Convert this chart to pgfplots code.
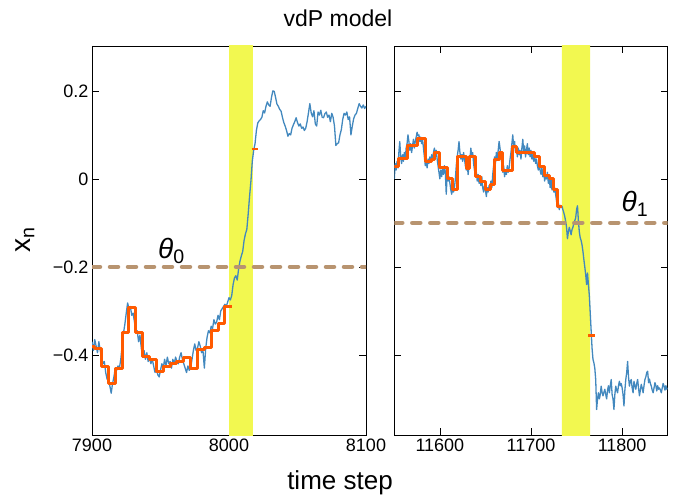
\documentclass[border=0pt]{standalone}
\usepackage{pgfplots}
\pgfplotsset{compat=1.18}
\usepackage{fontspec}
\setmainfont{Liberation Sans}
\definecolor{bl}{RGB}{66,136,190}
\definecolor{orng}{RGB}{255,90,0}
\definecolor{ylw}{RGB}{242,248,80}
\definecolor{brn}{RGB}{184,148,112}
\begin{document}
\begin{tikzpicture}
\useasboundingbox (0,0) rectangle (677pt,-502pt);
\pgfplotsset{
  panel/.style={
    scale only axis, height=389pt, ymin=-0.582, ymax=0.302,
    tick pos=both, tick align=inside, major tick length=7pt,
    axis line style={black, line width=0.8pt},
    tick style={black, line width=0.7pt},
    ytick={-0.4,-0.2,0,0.2},
    scaled x ticks=false, scaled y ticks=false,
    tick label style={font=\fontsize{18}{20}\selectfont},
    clip=true,
  }
}
% ---------------- left panel ----------------
\begin{axis}[panel, at={(92pt,-435pt)}, anchor=south west, width=274pt,
  xmin=7900, xmax=8100, xtick={7900,8000,8100}, xticklabels={7900,8000,8100},
  yticklabels={−0.4,−0.2,0,0.2}]
\addplot[fill=ylw, draw=none] coordinates {(8000,-0.6) (8017.5,-0.6) (8017.5,0.35) (8000,0.35)} \closedcycle;
\addplot[bl, line width=1.3pt, line join=round] coordinates {
(7900,-0.37) (7901,-0.39) (7902,-0.365) (7903,-0.38) (7904,-0.395) (7905,-0.37) (7906,-0.39) (7907,-0.405) (7908,-0.42) (7909,-0.415)
(7910,-0.44) (7911,-0.455) (7912,-0.45) (7913,-0.47) (7914,-0.487) (7915,-0.465) (7916,-0.45) (7917,-0.43) (7918,-0.435) (7919,-0.425)
(7920,-0.43) (7921,-0.41) (7922,-0.38) (7923,-0.35) (7924,-0.33) (7925,-0.305) (7926,-0.282) (7927,-0.295) (7928,-0.29) (7929,-0.31)
(7930,-0.305) (7931,-0.325) (7932,-0.35) (7933,-0.345) (7934,-0.37) (7935,-0.355) (7936,-0.385) (7937,-0.405) (7938,-0.39) (7939,-0.41)
(7940,-0.395) (7941,-0.415) (7942,-0.405) (7943,-0.42) (7944,-0.41) (7945,-0.425) (7946,-0.44) (7947,-0.43) (7948,-0.445) (7949,-0.45)
(7950,-0.435) (7951,-0.42) (7952,-0.43) (7953,-0.41) (7954,-0.425) (7955,-0.405) (7956,-0.42) (7957,-0.415) (7958,-0.43) (7959,-0.41)
(7960,-0.42) (7961,-0.405) (7962,-0.415) (7963,-0.42) (7964,-0.405) (7965,-0.395) (7966,-0.41) (7967,-0.42) (7968,-0.43) (7969,-0.44)
(7970,-0.425) (7971,-0.435) (7972,-0.43) (7973,-0.41) (7974,-0.39) (7975,-0.375) (7976,-0.39) (7977,-0.385) (7978,-0.37) (7979,-0.38)
(7980,-0.395) (7981,-0.39) (7982,-0.43) (7983,-0.385) (7984,-0.36) (7985,-0.345) (7986,-0.35) (7987,-0.335) (7988,-0.34) (7989,-0.32)
(7990,-0.33) (7991,-0.325) (7992,-0.31) (7993,-0.32) (7994,-0.30) (7995,-0.295) (7996,-0.29) (7997,-0.285) (7998,-0.29) (7999,-0.28)
(8000,-0.27) (8001,-0.275) (8002,-0.265) (8003,-0.24) (8004,-0.225) (8005,-0.22) (8006,-0.23) (8007,-0.205) (8008,-0.187) (8009,-0.175)
(8010,-0.165) (8011,-0.14) (8012,-0.125) (8013,-0.115) (8014,-0.08) (8015,-0.04) (8016,-0.005) (8017,0.04) (8018,0.065) (8019,0.08)
(8020,0.11) (8021,0.127) (8022,0.132) (8023,0.135) (8024,0.14) (8025,0.155) (8026,0.15) (8027,0.165) (8028,0.175) (8029,0.168)
(8030,0.165) (8031,0.185) (8032,0.2) (8033,0.199) (8034,0.185) (8035,0.17) (8036,0.165) (8037,0.158) (8038,0.154) (8039,0.14)
(8040,0.128) (8041,0.12) (8042,0.11) (8043,0.097) (8044,0.103) (8045,0.1) (8046,0.115) (8047,0.123) (8048,0.13) (8049,0.139)
(8050,0.128) (8051,0.12) (8052,0.125) (8053,0.115) (8054,0.118) (8055,0.11) (8056,0.115) (8057,0.13) (8058,0.15) (8059,0.171)
(8060,0.15) (8061,0.141) (8062,0.155) (8063,0.125) (8064,0.12) (8065,0.152) (8066,0.145) (8067,0.156) (8068,0.14) (8069,0.139)
(8070,0.148) (8071,0.152) (8072,0.14) (8073,0.145) (8074,0.13) (8075,0.149) (8076,0.14) (8077,0.12) (8078,0.076) (8079,0.08)
(8080,0.082) (8081,0.1) (8082,0.112) (8083,0.135) (8084,0.149) (8085,0.145) (8086,0.152) (8087,0.135) (8088,0.141) (8089,0.1)
(8090,0.12) (8091,0.137) (8092,0.145) (8093,0.149) (8094,0.16) (8095,0.171) (8096,0.165) (8097,0.161) (8098,0.168) (8099,0.16)
(8100,0.165)};
\addplot[orng, line width=3pt, const plot, line join=round] coordinates {
(7900,-0.38) (7902,-0.385) (7907,-0.426) (7912,-0.465) (7917,-0.432) (7922,-0.349) (7927,-0.293) (7932,-0.349) (7937,-0.403) (7942,-0.411)
(7947,-0.437) (7952,-0.426) (7957,-0.42) (7962,-0.415) (7967,-0.407) (7972,-0.432) (7977,-0.388) (7982,-0.384) (7987,-0.344) (7992,-0.329)
(7997,-0.29) (8002,-0.29)};
\addplot[orng, line width=2.5pt] coordinates {(8016.5,0.068) (8021.5,0.068)};
\addplot[brn, line width=4.5pt, line cap=round, dash pattern=on 8pt off 10pt] coordinates {(7900,-0.2) (8100,-0.2)};
\node at (axis cs:7958,-0.163) {\fontsize{28}{30}\selectfont \textit{θ}\textsubscript{0}};
\end{axis}
% ---------------- right panel ----------------
\begin{axis}[panel, at={(394.3pt,-435pt)}, anchor=south west, width=273.4pt,
  xmin=11550, xmax=11850, xtick={11600,11700,11800}, xticklabels={11600,11700,11800},
  yticklabels={}]
\addplot[fill=ylw, draw=none] coordinates {(11734,-0.6) (11765,-0.6) (11765,0.35) (11734,0.35)} \closedcycle;
\addplot[bl, line width=1.3pt, line join=round] coordinates {
(11550,0.00) (11551,0.035) (11552,0.02) (11553,0.04) (11554,0.025) (11555,0.06) (11556,0.085) (11557,0.05) (11558,0.035) (11559,0.055)
(11560,0.04) (11561,0.06) (11562,0.045) (11563,0.07) (11564,0.08) (11565,0.10) (11566,0.085) (11567,0.065) (11568,0.08) (11569,0.06)
(11570,0.075) (11571,0.09) (11572,0.07) (11573,0.085) (11574,0.095) (11575,0.106) (11576,0.098) (11577,0.10) (11578,0.085) (11579,0.095)
(11580,0.08) (11581,0.09) (11582,0.07) (11583,0.05) (11584,0.03) (11585,0.04) (11586,0.025) (11587,0.045) (11588,0.035) (11589,0.05)
(11590,0.04) (11591,0.055) (11592,0.045) (11593,0.06) (11594,0.07) (11595,0.055) (11596,0.065) (11597,0.045) (11598,0.03) (11599,0.015)
(11600,0.0) (11601,0.02) (11602,0.005) (11603,0.025) (11604,0.01) (11605,0.03) (11606,0.015) (11607,-0.035) (11608,0.01) (11609,-0.005)
(11610,0.005) (11611,-0.01) (11612,-0.025) (11613,-0.035) (11614,-0.015) (11615,-0.03) (11616,-0.02) (11617,0.0) (11618,0.03) (11619,0.05)
(11620,0.065) (11621,0.085) (11622,0.06) (11623,0.045) (11624,0.055) (11625,0.04) (11626,0.06) (11627,0.045) (11628,0.03) (11629,0.02)
(11630,0.035) (11631,0.01) (11632,0.03) (11633,0.045) (11634,0.07) (11635,0.05) (11636,0.06) (11637,0.035) (11638,0.02) (11639,0.005)
(11640,0.015) (11641,-0.005) (11642,0.01) (11643,-0.01) (11644,0.0) (11645,-0.015) (11646,0.005) (11647,-0.02) (11648,-0.03) (11649,-0.015)
(11650,-0.025) (11651,-0.04) (11652,-0.02) (11653,-0.03) (11654,-0.015) (11655,-0.025) (11656,-0.005) (11657,-0.02) (11658,0.01) (11659,0.03)
(11660,0.05) (11661,0.035) (11662,0.06) (11663,0.045) (11664,0.065) (11665,0.085) (11666,0.07) (11667,0.05) (11668,0.035) (11669,0.015)
(11670,0.03) (11671,0.005) (11672,0.02) (11673,0.01) (11674,0.03) (11675,0.015) (11676,0.025) (11677,0.045) (11678,0.06) (11679,0.08)
(11680,0.1) (11681,0.07) (11682,0.085) (11683,0.06) (11684,0.075) (11685,0.05) (11686,0.07) (11687,0.055) (11688,0.065) (11689,0.045)
(11690,0.07) (11691,0.09) (11692,0.06) (11693,0.075) (11694,0.05) (11695,0.065) (11696,0.08) (11697,0.055) (11698,0.07) (11699,0.05)
(11700,0.065) (11701,0.045) (11702,0.055) (11703,0.04) (11704,0.055) (11705,0.035) (11706,0.045) (11707,0.03) (11708,0.02) (11709,0.035)
(11710,0.02) (11711,0.01) (11712,0.025) (11713,0.005) (11714,0.015) (11715,-0.005) (11716,0.01) (11717,0.0) (11718,0.015) (11719,-0.01)
(11720,0.005) (11721,-0.02) (11722,0.0) (11723,-0.025) (11724,-0.01) (11725,-0.03) (11726,-0.02) (11727,-0.035) (11728,-0.05) (11729,-0.065)
(11730,-0.055) (11731,-0.07) (11732,-0.06) (11733,-0.065) (11734,-0.062) (11735,-0.07) (11736,-0.077) (11737,-0.085) (11738,-0.096) (11739,-0.11)
(11740,-0.136) (11741,-0.12) (11742,-0.11) (11743,-0.118) (11744,-0.127) (11745,-0.115) (11746,-0.11) (11747,-0.1) (11748,-0.095) (11749,-0.089)
(11750,-0.07) (11751,-0.061) (11752,-0.095) (11753,-0.12) (11754,-0.134) (11755,-0.14) (11756,-0.15) (11757,-0.165) (11758,-0.183) (11759,-0.2)
(11760,-0.217) (11761,-0.24) (11762,-0.214) (11763,-0.24) (11764,-0.265) (11765,-0.305) (11766,-0.345) (11767,-0.385) (11768,-0.41) (11769,-0.418)
(11770,-0.43) (11771,-0.456) (11772,-0.524) (11773,-0.5) (11774,-0.486) (11775,-0.5) (11776,-0.49) (11777,-0.471) (11778,-0.485) (11779,-0.493)
(11780,-0.485) (11781,-0.478) (11782,-0.49) (11783,-0.5) (11784,-0.48) (11785,-0.47) (11786,-0.486) (11787,-0.47) (11788,-0.456) (11789,-0.49)
(11790,-0.5) (11791,-0.524) (11792,-0.49) (11793,-0.471) (11794,-0.48) (11795,-0.486) (11796,-0.47) (11797,-0.46) (11798,-0.47) (11799,-0.465)
(11800,-0.475) (11801,-0.49) (11802,-0.516) (11803,-0.48) (11804,-0.456) (11805,-0.44) (11806,-0.415) (11807,-0.45) (11808,-0.471) (11809,-0.46)
(11810,-0.456) (11811,-0.475) (11812,-0.486) (11813,-0.46) (11814,-0.47) (11815,-0.478) (11816,-0.465) (11817,-0.456) (11818,-0.475) (11819,-0.493)
(11820,-0.48) (11821,-0.467) (11822,-0.475) (11823,-0.486) (11824,-0.47) (11825,-0.456) (11826,-0.45) (11827,-0.44) (11828,-0.437) (11829,-0.463)
(11830,-0.455) (11831,-0.465) (11832,-0.471) (11833,-0.48) (11834,-0.486) (11835,-0.475) (11836,-0.463) (11837,-0.47) (11838,-0.482) (11839,-0.47)
(11840,-0.478) (11841,-0.475) (11842,-0.48) (11843,-0.486) (11844,-0.475) (11845,-0.465) (11846,-0.471) (11847,-0.48) (11848,-0.47) (11849,-0.478)
(11850,-0.475)};
\addplot[orng, line width=3pt, const plot, line join=round] coordinates {
(11550,0.029) (11555,0.047) (11565,0.075) (11575,0.091) (11584,0.04) (11591,0.045) (11594.5,0.059) (11599.5,0.025) (11608,0.002) (11614,-0.024)
(11619.6,0.05) (11629.5,0.024) (11633,0.052) (11639,0.006) (11645,-0.005) (11650.5,-0.024) (11656,-0.013) (11659.5,0.044) (11665,0.059) (11669,0.019)
(11679.5,0.074) (11684.5,0.061) (11704,0.051) (11709,0.029) (11714.5,0.007) (11720,0.0) (11725,-0.024) (11728.6,-0.062) (11734,-0.062)};
\addplot[orng, line width=2.5pt] coordinates {(11763,-0.356) (11770,-0.356)};
\addplot[brn, line width=4.5pt, line cap=round, dash pattern=on 8pt off 10pt] coordinates {(11550,-0.1) (11850,-0.1)};
\node at (axis cs:11814,-0.056) {\fontsize{28}{30}\selectfont \textit{θ}\textsubscript{1}};
\end{axis}
% ---------------- labels ----------------
\node at (338pt,-18pt) {\fontsize{23}{25}\selectfont vdP model};
\node at (340pt,-483pt) {\fontsize{26}{28}\selectfont time step};
\node[rotate=90] at (25pt,-240pt) {\fontsize{28}{30}\selectfont x\textsubscript{n}};
\end{tikzpicture}
\end{document}
